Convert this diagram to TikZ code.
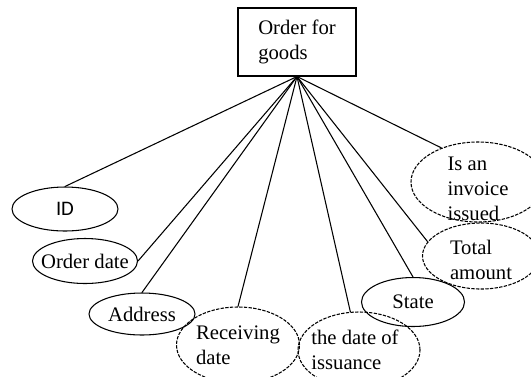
\documentclass[tikz,border=0pt]{standalone}
\usepackage{fontspec}
\setmainfont{Liberation Serif}
\newfontfamily\idfont{Carlito}
\usetikzlibrary{shapes.geometric}

\begin{document}
\begin{tikzpicture}[x=0.75pt, y=-0.75pt, every node/.style={font=\fontsize{15.5}{19}\selectfont}]
  \tikzset{ent/.style={draw, line width=0.8pt, minimum width=88.5pt, minimum height=51pt, align=left, inner sep=0pt},
           attr/.style={draw, ellipse, line width=0.8pt, inner sep=0pt},
           attrd/.style={attr, dash pattern=on 2.5pt off 1pt}}
  \useasboundingbox (0,0) rectangle (531,376);
  \clip (0,0) rectangle (531,376);
  \node[ent] (order) at (297,42) {Order for\\goods};
  \node[attr, minimum width=79.5pt, minimum height=33pt, label={center:\idfont ID}] (id) at (65,209) {};
  \node[attr, minimum width=78.75pt, minimum height=33.75pt, label={center:Order date}] (odate) at (85,261) {};
  \node[attr, minimum width=79.5pt, minimum height=31.5pt, label={center:Address}] (addr) at (142,314) {};
  \node[attrd, minimum width=92.25pt, minimum height=57pt, label={[align=left]center:Receiving\\date}] (recv) at (238,345) {};
  \node[attrd, minimum width=91.5pt, minimum height=57pt, label={[align=left, xshift=-3pt]center:the date of\\issuance}] (iss) at (359,350) {};
  \node[attr, minimum width=77.25pt, minimum height=36.75pt, label={center:State}] (state) at (413,302) {};
  \node[attrd, minimum width=87.75pt, minimum height=49.5pt, label={[align=left, yshift=-3pt]center:Total\\amount}] (total) at (481,256) {};
  \node[attrd, minimum width=100.5pt, minimum height=60pt, label={[align=left, yshift=-5pt]center:Is an\\invoice\\issued}] (inv) at (478,182) {};
  % connectors from the order box
  \foreach \a in {id.north, odate.east, addr.north, recv.north, iss, state.north, total.165, inv.137}
    \draw[line width=0.8pt] (order.south) -- (\a);
\end{tikzpicture}
\end{document}
